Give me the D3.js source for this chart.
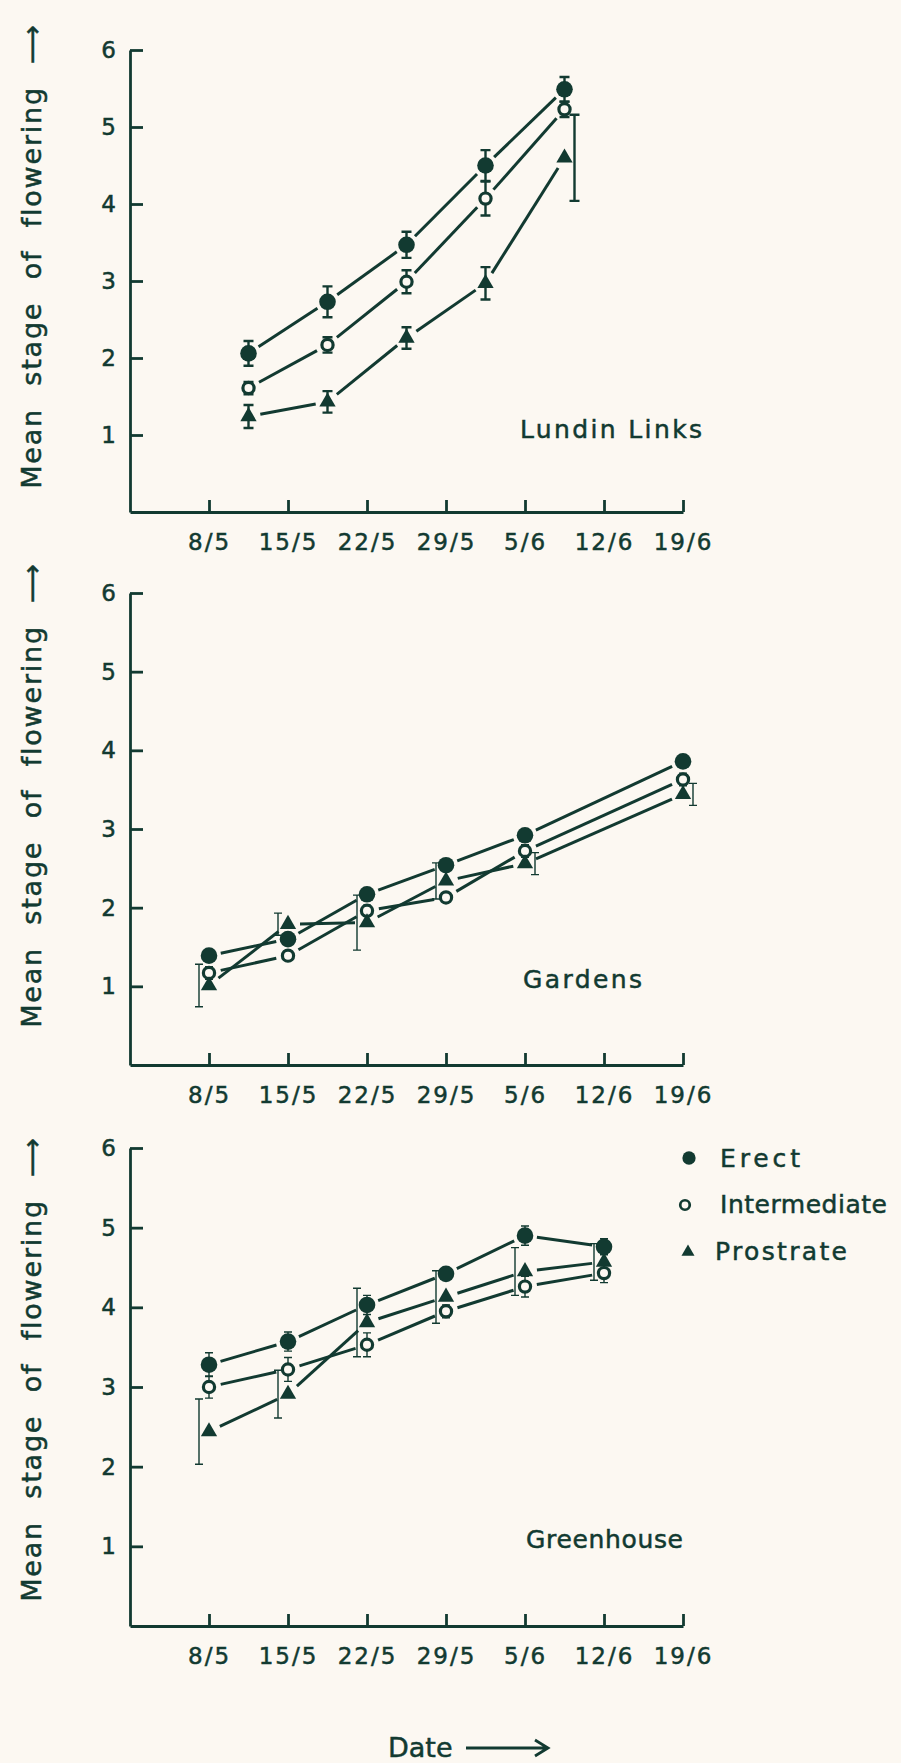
<!DOCTYPE html>
<html>
<head>
<meta charset="utf-8">
<script src="https://cdn.jsdelivr.net/npm/d3@7"></script>
<style>
  body { margin: 0; background: #fcf8f2; }
  svg text { font-family: "DejaVu Sans", sans-serif; fill: #123a31; stroke: #123a31; stroke-width: 0.5px; }
</style>
</head>
<body>
<div id="chart"></div>
<script>
// day numbers counted from 1 May (so 5/6 = 36, 19/6 = 50)
var tickDays = [8, 15, 22, 29, 36, 43, 50];
var tickLabels = ["8/5", "15/5", "22/5", "29/5", "5/6", "12/6", "19/6"];
var yTicks = [1, 2, 3, 4, 5, 6];
var seriesNames = ["Erect", "Intermediate", "Prostrate"];
var panelNames = ["Lundin Links", "Gardens", "Greenhouse"];

// Lundin Links
var lundinDays = [11.5, 18.5, 25.5, 32.5, 39.5];
var lundinErect = [2.06, 2.73, 3.47, 4.50, 5.49];
var lundinErectErr = [0.16, 0.20, 0.17, 0.20, 0.16];
var lundinInter = [1.61, 2.17, 2.99, 4.07, 5.23];
var lundinInterErr = [0.08, 0.10, 0.15, 0.22, 0.10];
var lundinProst = [1.24, 1.43, 2.26, 2.97, 4.60];
var lundinProstErr = [0.15, 0.14, 0.14, 0.21, 0.56];
var lundinProstSide = [0, 0, 0, 0, 1];

// Gardens
var gardenDays = [8, 15, 22, 29, 36, 50];
var gardenErect = [1.39, 1.60, 2.17, 2.54, 2.92, 3.86];
var gardenErectErr = [0.05, 0.05, 0.06, 0.06, 0.05, 0.06];
var gardenInter = [1.17, 1.39, 1.96, 2.13, 2.72, 3.63];
var gardenInterErr = [0.08, 0.06, 0.07, 0.06, 0.08, 0.08];
var gardenProst = [1.01, 1.79, 1.81, 2.34, 2.56, 3.44];
var gardenProstErr = [0.27, 0.14, 0.35, 0.23, 0.14, 0.14];
var gardenProstSide = [-1, -1, -1, -1, 1, 1];

// Greenhouse
var greenDays = [8, 15, 22, 29, 36, 43];
var greenErect = [3.28, 3.57, 4.03, 4.42, 4.90, 4.76];
var greenErectErr = [0.15, 0.12, 0.12, 0.06, 0.12, 0.10];
var greenInter = [3.00, 3.22, 3.53, 3.95, 4.26, 4.43];
var greenInterErr = [0.14, 0.15, 0.15, 0.08, 0.13, 0.12];
var greenProst = [2.44, 2.91, 3.81, 4.13, 4.45, 4.57];
var greenProstErr = [0.41, 0.30, 0.43, 0.33, 0.30, 0.23];
var greenProstSide = [-1, -1, -1, -1, -1, -1];

var panels = [
  { days: lundinDays, values: [lundinErect, lundinInter, lundinProst],
    errs: [lundinErectErr, lundinInterErr, lundinProstErr],
    sides: [null, null, lundinProstSide] },
  { days: gardenDays, values: [gardenErect, gardenInter, gardenProst],
    errs: [gardenErectErr, gardenInterErr, gardenProstErr],
    sides: [null, null, gardenProstSide] },
  { days: greenDays, values: [greenErect, greenInter, greenProst],
    errs: [greenErectErr, greenInterErr, greenProstErr],
    sides: [null, null, greenProstSide] }
];

var width = 901, height = 1763;
var ink = "#123a31", paper = "#fcf8f2";

// layout of each panel
var layout = [
  { top: 50, bottom: 512, titleMid: 256, label: [520, 438, 182], errWidth: 2.4 },
  { top: 593, bottom: 1065, titleMid: 795, label: [523, 988, 119], errWidth: 1.4 },
  { top: 1148, bottom: 1626, titleMid: 1369, label: [526, 1548, 157], errWidth: 1.4 }
];

var svg = d3.select("#chart").append("svg")
  .attr("width", width)
  .attr("height", height);

svg.append("rect").attr("width", width).attr("height", height).attr("fill", paper);

var x = d3.scaleLinear().domain([1, 50]).range([130, 683]);

//shorten a segment so the line stops before the markers
function trimmed(a, b, gap) {
  var dx = b[0] - a[0], dy = b[1] - a[1];
  var len = Math.sqrt(dx * dx + dy * dy);
  var ux = dx / len, uy = dy / len;
  return [[a[0] + ux * gap, a[1] + uy * gap], [b[0] - ux * gap, b[1] - uy * gap]];
}

var line = d3.line();

function drawMarker(g, kind, cx, cy, scale) {
  if (kind === 0) {
    g.append("circle").attr("cx", cx).attr("cy", cy).attr("r", 8.3 * scale).attr("fill", ink);
  } else if (kind === 1) {
    g.append("circle").attr("cx", cx).attr("cy", cy).attr("r", 5.6 * scale)
      .attr("fill", paper).attr("stroke", ink).attr("stroke-width", 3.2 * scale);
  } else {
    g.append("path")
      .attr("d", d3.symbol(d3.symbolTriangle).size(115 * scale * scale)())
      .attr("transform", "translate(" + cx + "," + cy + ")")
      .attr("fill", ink);
  }
}

panels.forEach(function(p, pi) {
  var L = layout[pi];
  var y = d3.scaleLinear().domain([0, 6]).range([L.bottom, L.top]);
  var g = svg.append("g");

  //axes
  var xAxis = g.append("g")
    .attr("transform", "translate(0," + L.bottom + ")")
    .call(d3.axisBottom(x)
      .tickValues(tickDays)
      .tickFormat(function(d, i) { return tickLabels[i]; })
      .tickSizeInner(-12).tickSizeOuter(0).tickPadding(22));
  var yAxis = g.append("g")
    .attr("transform", "translate(" + x(1) + ",0)")
    .call(d3.axisLeft(y)
      .tickValues(yTicks)
      .tickFormat(d3.format("d"))
      .tickSizeInner(-13).tickSizeOuter(0).tickPadding(14));

  [xAxis, yAxis].forEach(function(a) {
    a.select(".domain").attr("stroke", ink).attr("stroke-width", 2.8);
    a.selectAll(".tick line").attr("stroke", ink).attr("stroke-width", 2.8);
    a.selectAll(".tick text")
      .style("font-size", "23px")
      .attr("fill", ink);
  });
  xAxis.selectAll(".tick text").style("letter-spacing", "2px");

  //y title
  g.append("text")
    .attr("transform", "translate(41," + L.titleMid + ") rotate(-90)")
    .attr("text-anchor", "middle")
    .style("font-size", "27px")
    .style("letter-spacing", "1.8px")
    .style("word-spacing", "12px")
    .text("Mean stage of flowering \u27F6");

  //panel name
  g.append("text")
    .attr("x", L.label[0])
    .attr("y", L.label[1])
    .attr("textLength", L.label[2])
    .attr("lengthAdjust", "spacing")
    .style("font-size", "25px")
    .text(panelNames[pi]);

  //lines between points
  p.values.forEach(function(vals) {
    var pts = vals.map(function(v, i) { return [x(p.days[i]), y(v)]; });
    for (var i = 0; i < pts.length - 1; i++) {
      g.append("path")
        .attr("d", line(trimmed(pts[i], pts[i + 1], 12)))
        .attr("fill", "none")
        .attr("stroke", ink)
        .attr("stroke-width", 3);
    }
  });

  //error bars
  p.values.forEach(function(vals, s) {
    vals.forEach(function(v, i) {
      var side = p.sides[s] ? p.sides[s][i] : 0;
      var ex = x(p.days[i]) + side * 10;
      var e = p.errs[s][i];
      var capW = pi === 0 ? 5 : 4;
      g.append("path")
        .attr("d", "M" + ex + "," + y(v + e) + "V" + y(v - e) +
          "M" + (ex - capW) + "," + y(v + e) + "H" + (ex + capW) +
          "M" + (ex - capW) + "," + y(v - e) + "H" + (ex + capW))
        .attr("fill", "none")
        .attr("stroke", ink)
        .attr("stroke-width", L.errWidth);
    });
  });

  //markers
  p.values.forEach(function(vals, s) {
    vals.forEach(function(v, i) {
      drawMarker(g, s, x(p.days[i]), y(v), 1);
    });
  });
});

//legend
var legendRows = [[689, 1158, 720, 1167, 80], [685, 1205, 720, 1213, 167], [688, 1252, 715, 1260, 132]];
seriesNames.forEach(function(name, i) {
  var r = legendRows[i];
  drawMarker(svg, i, r[0], r[1], i === 1 ? 0.85 : 0.8);
  svg.append("text")
    .attr("x", r[2])
    .attr("y", r[3])
    .attr("textLength", r[4])
    .attr("lengthAdjust", "spacing")
    .style("font-size", "25px")
    .text(name);
});

//x title with arrow
svg.append("text")
  .attr("x", 388)
  .attr("y", 1757)
  .style("font-size", "27px")
  .text("Date");
svg.append("path")
  .attr("d", "M466,1748H547M535,1740L548,1748L535,1756")
  .attr("fill", "none")
  .attr("stroke", ink)
  .attr("stroke-width", 2.8);
</script>
</body>
</html>
